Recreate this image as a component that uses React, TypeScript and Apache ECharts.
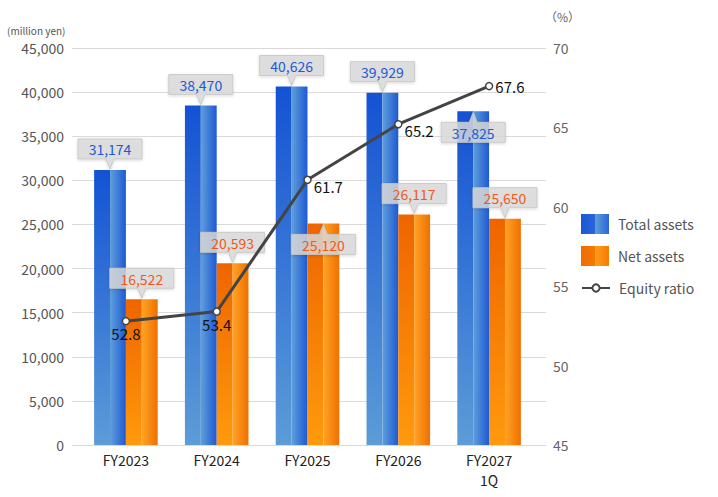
import React, { useEffect, useRef } from "react";
import * as echarts from "echarts";

const categories = ["FY2023", "FY2024", "FY2025", "FY2026", "FY2027\n1Q"];
const totalAssets = [31174, 38470, 40626, 39929, 37825];
const netAssets = [16522, 20593, 25120, 26117, 25650];
const equityRatio = [52.8, 53.4, 61.7, 65.2, 67.6];
const leftTicks = { min: 0, max: 45000, interval: 5000 };
const rightTicks = { min: 45, max: 70, interval: 5 };

// callout direction (style): "up" = box above bar, "down" = box below bar top
const totalCalloutDir = ["up", "up", "up", "up", "down"];
const netCalloutDir = ["up", "up", "down", "up", "up"];
// line label placement (style)
const ratioLabelPos = ["bottom", "bottom", "right", "right", "right"];
const ratioLabelOffset = [[0, 0], [0, 0], [0, 7], [0, 6], [0, 0]];

const FONT = '"Noto Sans CJK JP", "Noto Sans", sans-serif';
const BLUE_TEXT = "#2159d6";
const ORANGE_TEXT = "#ef5a1c";
const BAR_RATIO = 0.35;

const G = echarts.graphic;

const blueLeft = () =>
  new G.LinearGradient(0, 0, 0, 1, [
    { offset: 0, color: "#1452d4" },
    { offset: 1, color: "#5c9cd7" },
  ]);
const blueRight = () =>
  new G.LinearGradient(0, 0, 1, 0, [
    { offset: 0, color: "#609fdb" },
    { offset: 1, color: "#1d59d4" },
  ]);
const orangeLeft = () =>
  new G.LinearGradient(0, 0, 0, 1, [
    { offset: 0, color: "#ee6500" },
    { offset: 1, color: "#ff9a0c" },
  ]);
const orangeRight = () =>
  new G.LinearGradient(0, 0, 1, 0, [
    { offset: 0, color: "#ffa325" },
    { offset: 1, color: "#f07000" },
  ]);

const makeBarRender = (side: number, leftFill: () => any, rightFill: () => any) =>
  (params: any, api: any) => {
    const idx = api.value(0);
    const val = api.value(1);
    const top = api.coord([idx, val]);
    const base = api.coord([idx, 0]);
    const band = api.size([1, 0])[0];
    const bw = band * BAR_RATIO;
    const x0 = side < 0 ? top[0] - bw : top[0];
    const h = base[1] - top[1];
    const half = bw / 2;
    return {
      type: "group",
      children: [
        {
          type: "rect",
          shape: { x: x0, y: top[1], width: half, height: h },
          style: { fill: leftFill() },
        },
        {
          type: "rect",
          shape: { x: x0 + half, y: top[1], width: bw - half, height: h },
          style: { fill: rightFill() },
        },
      ],
    };
  };

const makeCalloutRender = (side: number, dirs: string[], textColor: string) =>
  (params: any, api: any) => {
    const idx = api.value(0);
    const val = api.value(1);
    const top = api.coord([idx, val]);
    const band = api.size([1, 0])[0];
    const bw = band * BAR_RATIO;
    const cx = top[0] + (side * bw) / 2;
    const ty = top[1];
    const w = 64;
    const h = 20;
    const gap = 11;
    const pw = 4;
    const dir = dirs[params.dataIndex];
    let points: number[][];
    let boxTop: number;
    if (dir === "up") {
      boxTop = ty - gap - h;
      const b = boxTop + h;
      points = [
        [cx - w / 2, boxTop],
        [cx + w / 2, boxTop],
        [cx + w / 2, b],
        [cx + pw, b],
        [cx, ty - 1],
        [cx - pw, b],
        [cx - w / 2, b],
      ];
    } else {
      boxTop = ty + gap;
      const b = boxTop + h;
      points = [
        [cx - w / 2, boxTop],
        [cx - pw, boxTop],
        [cx, ty + 1],
        [cx + pw, boxTop],
        [cx + w / 2, boxTop],
        [cx + w / 2, b],
        [cx - w / 2, b],
      ];
    }
    return {
      type: "group",
      children: [
        {
          type: "polygon",
          shape: { points },
          style: {
            fill: "rgba(218,218,218,0.82)",
            stroke: "rgba(200,200,200,0.9)",
            lineWidth: 1,
            shadowBlur: 3,
            shadowOffsetY: 1,
            shadowColor: "rgba(0,0,0,0.18)",
          },
        },
        {
          type: "text",
          style: {
            text: Number(val).toLocaleString("en-US"),
            x: cx,
            y: boxTop + h / 2 + 0.5,
            align: "center",
            verticalAlign: "middle",
            fill: textColor,
            fontSize: 14,
            fontFamily: FONT,
          },
        },
      ],
    };
  };

export default function App() {
  const ref = useRef<HTMLDivElement>(null);

  useEffect(() => {
    if (!ref.current) return;
    const chart = echarts.init(ref.current, undefined, { renderer: "svg" });
    const totalData = totalAssets.map((v, i) => [i, v]);
    const netData = netAssets.map((v, i) => [i, v]);
    const legendText = { fontSize: 14, color: "#555", fontFamily: FONT, padding: [0, 0, 0, 4] };

    const option: any = {
      animation: false,
      backgroundColor: "#ffffff",
      textStyle: { fontFamily: FONT },
      grid: [
        { left: 72, top: 48, width: 474, height: 397 },
        { left: 80.5, top: 48, width: 454, height: 397 },
      ],
      xAxis: [
        { gridIndex: 0, type: "value", show: false, min: 0, max: 1 },
        {
          gridIndex: 1,
          type: "category",
          data: categories,
          axisLine: { show: false },
          axisTick: { show: false },
          axisLabel: {
            color: "#222",
            fontSize: 14,
            margin: 5,
            lineHeight: 20,
            fontFamily: FONT,
          },
        },
      ],
      yAxis: [
        {
          gridIndex: 0,
          type: "value",
          position: "left",
          ...leftTicks,
          axisLine: { show: false },
          axisTick: { show: false },
          splitLine: { lineStyle: { color: "#dadada", width: 1 } },
          axisLabel: {
            color: "#555",
            fontSize: 14,
            margin: 8,
            fontFamily: FONT,
            formatter: (v: number) => v.toLocaleString("en-US"),
          },
        },
        {
          gridIndex: 0,
          type: "value",
          position: "right",
          ...rightTicks,
          axisLine: { show: false },
          axisTick: { show: false },
          splitLine: { show: false },
          axisLabel: { color: "#666", fontSize: 14, margin: 7, fontFamily: FONT },
        },
        { gridIndex: 1, type: "value", show: false, ...leftTicks, splitLine: { show: false } },
        { gridIndex: 1, type: "value", show: false, ...rightTicks, splitLine: { show: false } },
      ],
      legend: [
        {
          orient: "vertical",
          left: 581,
          top: 214,
          padding: 0,
          itemWidth: 28,
          itemHeight: 20,
          itemGap: 12,
          textStyle: legendText,
          data: [
            {
              name: "Total assets",
              icon: "rect",
              itemStyle: {
                color: new G.LinearGradient(0, 0, 1, 0, [
                  { offset: 0, color: "#1a57d5" },
                  { offset: 0.5, color: "#2a66d8" },
                  { offset: 0.5, color: "#5f9edb" },
                  { offset: 1, color: "#2a65d6" },
                ]),
              },
            },
            {
              name: "Net assets",
              icon: "rect",
              itemStyle: {
                color: new G.LinearGradient(0, 0, 1, 0, [
                  { offset: 0, color: "#f06c00" },
                  { offset: 0.5, color: "#f57a00" },
                  { offset: 0.5, color: "#ff9d1c" },
                  { offset: 1, color: "#f57c00" },
                ]),
              },
            },
          ],
        },
        {
          orient: "vertical",
          left: 581,
          top: 281,
          padding: 0,
          itemWidth: 28,
          itemHeight: 9,
          textStyle: legendText,
          data: [{ name: "Equity ratio" }],
        },
      ],
      graphic: [
        {
          type: "text",
          left: 7,
          top: 25,
          style: { text: "(million yen)", fontSize: 10, fill: "#555", fontFamily: FONT },
        },
        {
          type: "text",
          left: 545,
          top: 10,
          style: { text: "（%）", fontSize: 12, fill: "#666", fontFamily: FONT },
        },
      ],
      series: [
        {
          name: "Total assets",
          type: "custom",
          xAxisIndex: 1,
          yAxisIndex: 2,
          z: 2,
          itemStyle: { color: "#2a66d8" },
          encode: { x: 0, y: 1 },
          data: totalData,
          renderItem: makeBarRender(-1, blueLeft, blueRight),
        },
        {
          name: "Net assets",
          type: "custom",
          xAxisIndex: 1,
          yAxisIndex: 2,
          z: 2,
          itemStyle: { color: "#f57a00" },
          encode: { x: 0, y: 1 },
          data: netData,
          renderItem: makeBarRender(1, orangeLeft, orangeRight),
        },
        {
          name: "Total assets",
          type: "custom",
          xAxisIndex: 1,
          yAxisIndex: 2,
          z: 3,
          encode: { x: 0, y: 1 },
          data: totalData,
          renderItem: makeCalloutRender(-1, totalCalloutDir, BLUE_TEXT),
        },
        {
          name: "Net assets",
          type: "custom",
          xAxisIndex: 1,
          yAxisIndex: 2,
          z: 3,
          encode: { x: 0, y: 1 },
          data: netData,
          renderItem: makeCalloutRender(1, netCalloutDir, ORANGE_TEXT),
        },
        {
          name: "Equity ratio",
          type: "line",
          xAxisIndex: 1,
          yAxisIndex: 3,
          z: 4,
          symbol: "circle",
          symbolSize: 7,
          showAllSymbol: true,
          lineStyle: { color: "#444", width: 3 },
          itemStyle: { color: "#fff", borderColor: "#444", borderWidth: 1.5 },
          data: equityRatio.map((v, i) => ({
            value: v,
            label: {
              show: true,
              position: ratioLabelPos[i],
              offset: ratioLabelOffset[i],
              distance: ratioLabelPos[i] === "bottom" ? 1 : 2,
            },
          })),
          label: {
            show: true,
            color: "#111",
            fontSize: 15,
            fontFamily: FONT,
            formatter: (p: any) => Number(p.value).toFixed(1),
          },
        },
      ],
    };
    chart.setOption(option);
    return () => chart.dispose();
  }, []);

  return (
    <div
      ref={ref}
      style={{ position: "fixed", left: 0, top: 0, width: 718, height: 497 }}
    />
  );
}
